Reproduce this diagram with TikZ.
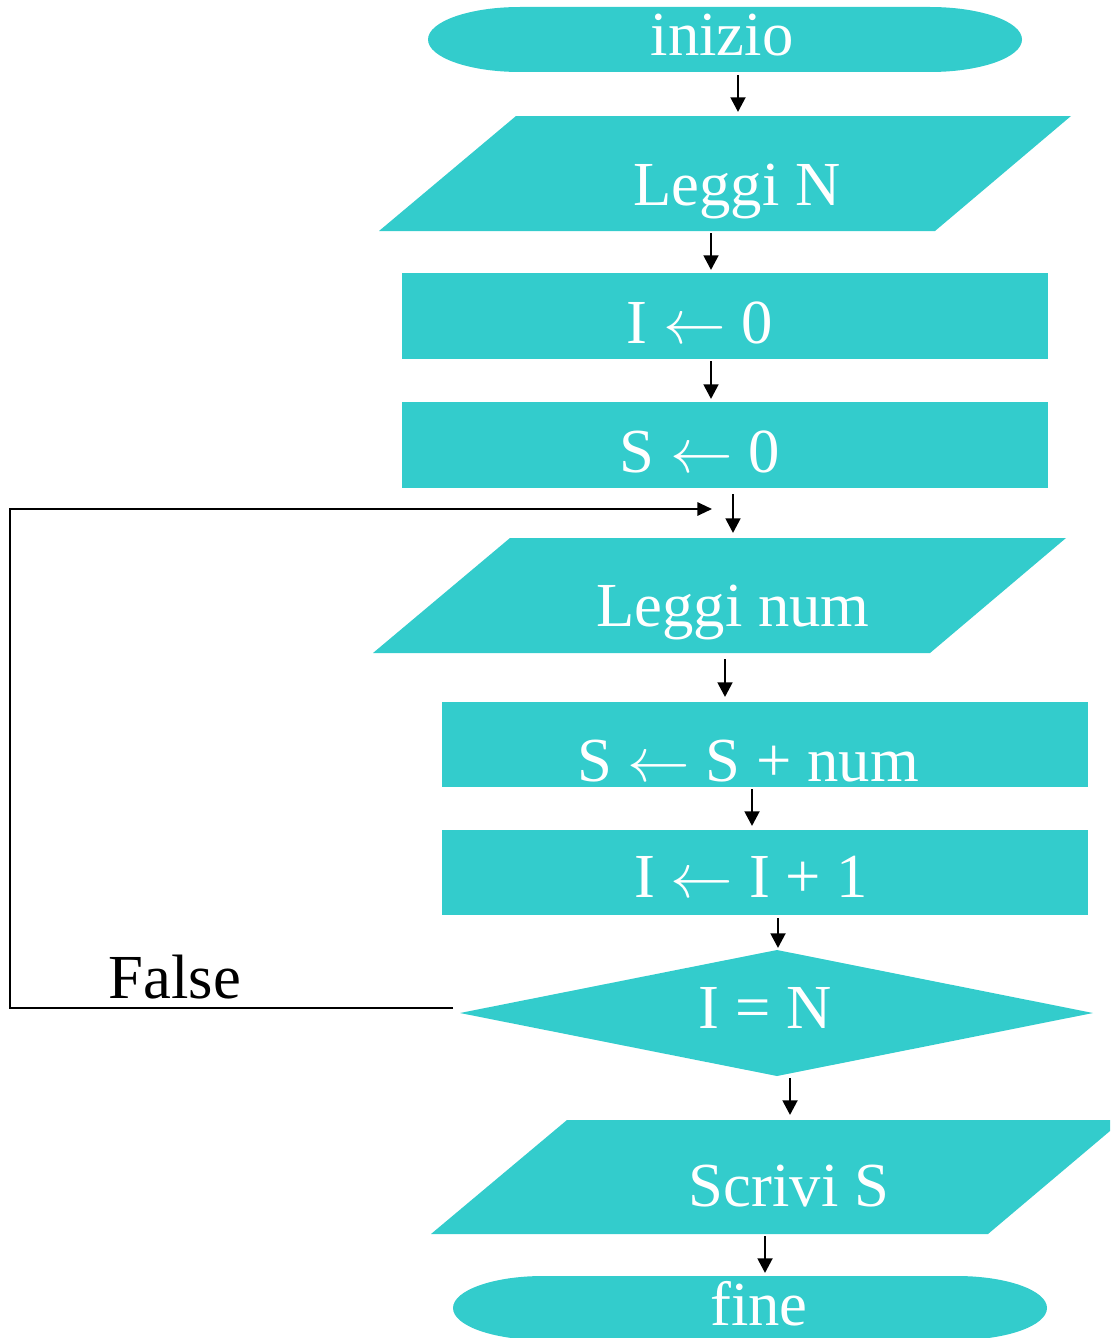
\documentclass[tikz,border=0pt]{standalone}
\usepackage{graphicx}
\usepackage{fontspec}
\setmainfont{Liberation Serif}
\usetikzlibrary{arrows.meta}
\definecolor{teal1}{RGB}{51,204,204}
\newcommand{\larr}{\scalebox{1.889}{\fontsize{24.88}{26}\selectfont$\leftarrow$}}
\tikzset{
  shapefill/.style={fill=teal1, draw=none},
  lbl/.style={text=white, anchor=base, inner sep=0pt, font=\fontsize{47}{50}\selectfont},
  flow/.style={line width=2.1pt, -{Triangle[length=11pt,width=11pt]}},
  back/.style={line width=1.5pt, -{Triangle[length=11pt,width=10pt]}}
}
\begin{document}
\begin{tikzpicture}[x=0.75pt,y=-0.75pt]
\useasboundingbox (0,0) rectangle (1110,1338);
\begin{scope}
\clip (0,0) rectangle (1110,1338);
% inizio
\path[shapefill] (520,7) -- (930,7) arc[start angle=-90,end angle=90,x radius=92,y radius=32.5] -- (520,72) arc[start angle=90,end angle=270,x radius=92,y radius=32.5] -- cycle;
% Leggi N
\path[shapefill] (516,116) -- (1071,116) -- (935,231) -- (379,231) -- cycle;
% I <- 0
\path[shapefill] (402,273) rectangle (1048,359);
% S <- 0
\path[shapefill] (402,402) rectangle (1048,488);
% Leggi num
\path[shapefill] (510,538) -- (1066,538) -- (930,653) -- (373,653) -- cycle;
% S <- S + num
\path[shapefill] (442,702) rectangle (1088,787);
% I <- I + 1
\path[shapefill] (442,830) rectangle (1088,915);
% I = N
\path[shapefill] (777,950) -- (1093,1013) -- (777,1076) -- (460,1013) -- cycle;
% Scrivi S
\path[shapefill] (567,1120) -- (1123,1120) -- (988,1234) -- (431,1234) -- cycle;
% fine
\path[shapefill] (543,1276) -- (957,1276) arc[start angle=-90,end angle=90,x radius=90,y radius=32] -- (543,1340) arc[start angle=90,end angle=270,x radius=90,y radius=32] -- cycle;
\end{scope}

% labels
\node[lbl] (tInizio) at (722,56) {inizio};
\node[lbl] (tLeggiN) at (737,205) {Leggi N};
\node[lbl] (tI0) at (700,343) {I \larr{} 0};
\node[lbl] (tS0) at (700,472) {S \larr{} 0};
\node[lbl] (tLeggiNum) at (733,626) {Leggi num};
\node[lbl] (tSum) at (748,781) {S \larr{} S + num};
\node[lbl] (tInc) at (751,897) {I \larr{} I + 1};
\node[lbl] (tCond) at (765,1028) {I = N};
\node[lbl] (tScrivi) at (789,1206) {Scrivi S};
\node[lbl] (tFine) at (759,1325) {fine};
\node[lbl, text=black] (tFalse) at (175,998) {False};

% connector ends
\coordinate (a1s) at (738,75);   \coordinate (a1e) at (738,112);
\coordinate (a2s) at (711,233);  \coordinate (a2e) at (711,270);
\coordinate (a3s) at (711,361);  \coordinate (a3e) at (711,399);
\coordinate (a4s) at (733,494);  \coordinate (a4e) at (733,533);
\coordinate (a5s) at (725,659);  \coordinate (a5e) at (725,697);
\coordinate (a6s) at (752,789);  \coordinate (a6e) at (752,826);
\coordinate (a7s) at (778,918);  \coordinate (a7e) at (778,948);
\coordinate (a8s) at (790,1078); \coordinate (a8e) at (790,1115);
\coordinate (a9s) at (765,1236); \coordinate (a9e) at (765,1273);
\coordinate (fbS) at (453,1008);
\coordinate (fbC1) at (10,1008);
\coordinate (fbC2) at (10,509);
\coordinate (fbE) at (712,509);

\foreach \i in {1,...,9} {\draw[flow] (a\i s) -- (a\i e);}
\draw[back] (fbS) -- (fbC1) -- (fbC2) -- (fbE);
\end{tikzpicture}
\end{document}
